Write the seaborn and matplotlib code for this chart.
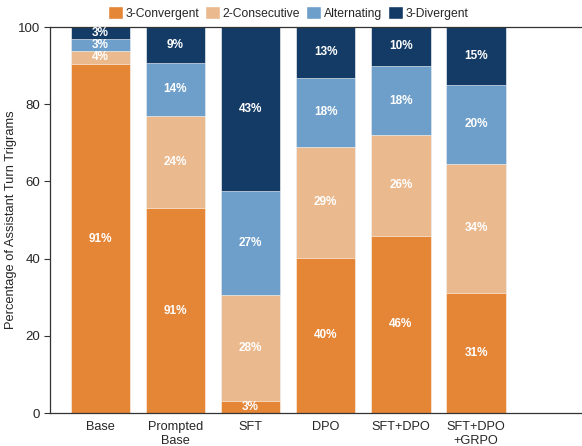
import matplotlib
matplotlib.use("Agg")
import matplotlib.pyplot as plt
import seaborn as sns
import numpy as np
import pandas as pd
from matplotlib.patches import Patch

models = ["Base", "Prompted\nBase", "SFT", "DPO", "SFT+DPO", "SFT+DPO\n+GRPO"]
series = ["3-Convergent", "2-Consecutive", "Alternating", "3-Divergent"]
convergent = [90.3, 53.0, 3.2, 40.2, 45.9, 31.1]
consecutive = [3.6, 23.9, 27.4, 28.7, 26.1, 33.4]
alternating = [3.0, 13.9, 26.9, 18.0, 17.9, 20.5]
divergent = [3.1, 9.2, 42.5, 13.1, 10.1, 15.0]
labels_conv = ["91%", "91%", "3%", "40%", "46%", "31%"]
labels_cons = ["4%", "24%", "28%", "29%", "26%", "34%"]
labels_alt = ["3%", "14%", "27%", "18%", "18%", "20%"]
labels_div = ["3%", "9%", "43%", "13%", "10%", "15%"]
colors = ["#E58536", "#EBB98E", "#6E9FCA", "#133B65"]

sns.set_style("white")
plt.rcParams["font.family"] = ["Liberation Sans", "DejaVu Sans"]

fig = plt.figure(figsize=(5.82, 4.46), dpi=100)
ax = fig.add_axes([50/582, 1-413/446, 1-50/582, (413-27)/446])

vals = [convergent, consecutive, alternating, divergent]
labs = [labels_conv, labels_cons, labels_alt, labels_div]
cum = np.cumsum(np.array(vals), axis=0)
for i in range(3, -1, -1):
    df = pd.DataFrame({"model": models, "value": cum[i]})
    sns.barplot(data=df, x="model", y="value", color=colors[i], width=0.79,
                edgecolor="white", linewidth=0.4, saturation=1, ax=ax, zorder=2)

for i in range(4):
    bottoms = cum[i] - np.array(vals[i])
    for j in range(len(models)):
        ax.text(j, bottoms[j] + vals[i][j] / 2, labs[i][j], ha="center", va="center",
                color="white", fontsize=8.5, fontweight="bold", zorder=5)

ax.set_ylim(0, 100)
ax.set_xlim(-0.67, 6.41)
ax.set_yticks([0, 20, 40, 60, 80, 100])
ax.set_xlabel("")
ax.set_ylabel("Percentage of Assistant Turn Trigrams", fontsize=9.3)
ax.yaxis.set_label_coords((17.5 - 50) / 532, 0.5)
ax.tick_params(axis="y", labelsize=9.5, left=True, length=4, width=0.8, color="#333333", pad=3)
ax.tick_params(axis="x", labelsize=9.2, bottom=False, pad=2)
for lab in ax.get_xticklabels():
    lab.set_linespacing(1.3)
for s in ["left", "top", "bottom"]:
    ax.spines[s].set_color("#333333")
    ax.spines[s].set_linewidth(0.9)
ax.spines["right"].set_visible(False)

handles = [Patch(facecolor=c, edgecolor="white", label=s) for c, s in zip(colors, series)]
fig.legend(handles=handles, loc="center", bbox_to_anchor=(288/582, 1-13/446), ncol=4,
           frameon=False, fontsize=8.7, handlelength=1.25, handleheight=1.25,
           handletextpad=0.2, columnspacing=0.5, borderpad=0, borderaxespad=0)

fig.savefig("out.png", dpi=100)
